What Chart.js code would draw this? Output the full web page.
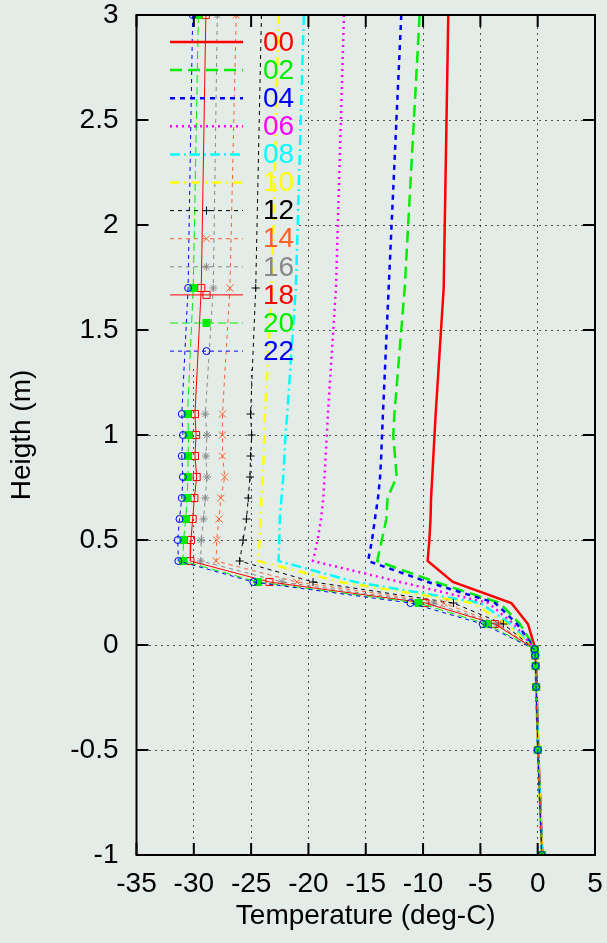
<!DOCTYPE html>
<html>
<head>
<meta charset="utf-8">
<title>Temperature profiles</title>
<script src="https://cdn.jsdelivr.net/npm/chart.js@4/dist/chart.umd.min.js"></script>
<style>
  html, body { margin: 0; padding: 0; background: #e4ece8; }
  #wrap { width: 607px; height: 943px; }
</style>
</head>
<body>
<div id="wrap"><canvas id="profile" width="607" height="943"></canvas></div>
<script>
/* data: heights (m) and temperature (deg-C) per hour */
const heights = [3, 1.7, 1.1, 1.0, 0.9, 0.8, 0.7, 0.6, 0.5, 0.4, 0.3, 0.2, 0.1, -0.02, -0.05, -0.1, -0.2, -0.5, -1];

const hourLabels = ['00', '02', '04', '06', '08', '10', '12', '14', '16', '18', '20', '22'];

const t00 = [-7.8, -8.2, -8.9, -9.0, -9.1, -9.2, -9.3, -9.35, -9.45, -9.6, -7.4, -2.3, -0.85, -0.2, -0.18, -0.14, -0.1, 0.05, 0.4];
const t02 = [-10.3, -11.6, -12.5, -12.6, -12.45, -12.3, -13.1, -13.2, -13.6, -14.0, -8.9, -3.3, -1.55, -0.2, -0.18, -0.15, -0.11, 0.04, 0.4];
const t04 = [-11.9, -13.0, -13.5, -13.58, -13.65, -13.75, -13.93, -14.2, -14.45, -14.8, -9.6, -3.7, -1.8, -0.22, -0.19, -0.15, -0.12, 0.03, 0.38];
const t06 = [-16.9, -17.6, -18.3, -18.4, -18.5, -18.6, -18.7, -18.9, -19.2, -19.6, -12.0, -4.3, -2.1, -0.22, -0.2, -0.15, -0.12, 0.03, 0.38];
const t08 = [-20.4, -21.1, -21.85, -22.0, -22.1, -22.2, -22.35, -22.5, -22.55, -22.6, -15.9, -5.0, -2.4, -0.23, -0.2, -0.16, -0.12, 0.03, 0.38];
const t10 = [-22.6, -23.2, -23.8, -23.85, -23.9, -24.0, -24.1, -24.2, -24.25, -24.4, -17.2, -5.7, -2.7, -0.24, -0.2, -0.16, -0.13, 0.02, 0.37];
const t12 = [-24.1, -24.6, -25.05, -24.95, -25.05, -25.1, -25.25, -25.4, -25.7, -26.0, -19.6, -7.35, -3.0, -0.25, -0.21, -0.16, -0.13, 0.02, 0.37];
const t14 = [-26.3, -26.85, -27.5, -27.5, -27.5, -27.3, -27.65, -27.8, -28.0, -28.05, -21.0, -8.2, -3.45, -0.25, -0.21, -0.17, -0.13, 0.02, 0.37];
const t16 = [-27.95, -28.3, -29.0, -28.85, -28.95, -28.85, -29.0, -29.15, -29.35, -29.4, -22.3, -9.1, -3.6, -0.26, -0.22, -0.17, -0.13, 0.02, 0.36];
const t18 = [-28.95, -29.35, -29.9, -29.8, -29.9, -29.75, -29.95, -30.1, -30.25, -30.3, -23.4, -9.8, -3.75, -0.26, -0.22, -0.17, -0.14, 0.01, 0.36];
const t20 = [-29.6, -30.05, -30.55, -30.45, -30.5, -30.5, -30.6, -30.7, -30.9, -30.95, -24.4, -10.4, -4.45, -0.27, -0.23, -0.18, -0.14, 0.01, 0.36];
const t22 = [-30.1, -30.5, -31.05, -30.95, -31.05, -30.95, -31.05, -31.25, -31.4, -31.35, -24.8, -11.1, -4.8, -0.27, -0.23, -0.18, -0.14, 0.01, 0.35];

const temps = [t00, t02, t04, t06, t08, t10, t12, t14, t16, t18, t20, t22];

/* gnuplot-like line styles */
const styles = [
  { color: '#ff0000', width: 2.5, dash: [] },
  { color: '#00ee00', width: 2.5, dash: [12, 6] },
  { color: '#0000ff', width: 2.5, dash: [5, 5] },
  { color: '#ff00ff', width: 2.5, dash: [2, 4] },
  { color: '#00ffff', width: 2.5, dash: [10, 4, 2, 4] },
  { color: '#ffff00', width: 2.5, dash: [9, 5, 2, 5] },
  { color: '#000000', width: 1, dash: [4, 4], point: 'cross', radius: 4 },
  { color: '#ff6028', width: 1, dash: [4, 4], point: 'crossRot', radius: 5 },
  { color: '#888888', width: 1, dash: [4, 4], point: 'star', radius: 4 },
  { color: '#ff0000', width: 1, dash: [], point: 'rect', radius: 5 },
  { color: '#00ee00', width: 1, dash: [8, 4], point: 'rect', radius: 5, filled: true },
  { color: '#0000ff', width: 1, dash: [4, 4], point: 'circle', radius: 3.5 }
];

const BG = '#e4ece8';
const FONT = "'Liberation Sans', Arial, Helvetica, sans-serif";

const datasets = hourLabels.map((lab, i) => {
  const s = styles[i];
  return {
    label: lab,
    data: heights.map((h, k) => ({ x: temps[i][k], y: h })),
    showLine: true,
    borderColor: s.color,
    borderWidth: s.width,
    borderDash: s.dash,
    pointStyle: s.point || 'circle',
    pointRadius: s.point ? s.radius : 0,
    pointBorderWidth: 1,
    pointBorderColor: s.color,
    pointBackgroundColor: s.filled ? s.color : 'rgba(0,0,0,0)',
    order: 11 - i
  };
});

/* background fill */
const bgPlugin = {
  id: 'bg',
  beforeDraw(chart) {
    const ctx = chart.ctx;
    ctx.save();
    ctx.fillStyle = BG;
    ctx.fillRect(0, 0, chart.width, chart.height);
    ctx.restore();
  }
};

/* opaque key box: hides the grid behind the key */
const keyMask = {
  id: 'keyMask',
  beforeDatasetsDraw(chart) {
    const a = chart.chartArea;
    const ctx = chart.ctx;
    ctx.save();
    ctx.fillStyle = BG;
    ctx.fillRect(a.left + 1, a.top + 1, 297 - a.left, 366 - a.top);
    ctx.restore();
  }
};

/* custom key: sample line on the left, coloured label on the right */
const keyPlugin = {
  id: 'key',
  afterDatasetsDraw(chart) {
    const ctx = chart.ctx;
    ctx.save();
    chart.data.datasets.forEach((ds, i) => {
      const y = 42 + i * 28.1;
      const s = styles[i];
      ctx.strokeStyle = s.color;
      ctx.lineWidth = s.width;
      ctx.setLineDash(s.dash);
      ctx.beginPath();
      ctx.moveTo(170, y);
      ctx.lineTo(243, y);
      ctx.stroke();
      ctx.setLineDash([]);
      if (s.point) {
        ctx.lineWidth = 1;
        ctx.fillStyle = s.filled ? s.color : 'rgba(0,0,0,0)';
        Chart.helpers.drawPoint(ctx, { pointStyle: s.point, radius: s.radius, rotation: 0, borderWidth: 1 }, 206.5, y);
      }
      ctx.fillStyle = s.color;
      ctx.font = '28px ' + FONT;
      ctx.textAlign = 'left';
      ctx.textBaseline = 'middle';
      ctx.fillText(ds.label, 263, y + 1);
    });
    ctx.restore();
  }
};

/* frame with inward ticks on all four sides */
const framePlugin = {
  id: 'frame',
  afterDraw(chart) {
    const a = chart.chartArea;
    const ctx = chart.ctx;
    const xs = chart.scales.x, ys = chart.scales.y;
    const len = 12;
    ctx.save();
    ctx.strokeStyle = '#000';
    ctx.lineWidth = 2;
    ctx.setLineDash([]);
    ctx.strokeRect(a.left, a.top, a.right - a.left, a.bottom - a.top);
    ctx.beginPath();
    xs.ticks.forEach(t => {
      const px = xs.getPixelForValue(t.value);
      ctx.moveTo(px, a.bottom); ctx.lineTo(px, a.bottom - len);
      ctx.moveTo(px, a.top); ctx.lineTo(px, a.top + len);
    });
    ys.ticks.forEach(t => {
      const py = ys.getPixelForValue(t.value);
      ctx.moveTo(a.left, py); ctx.lineTo(a.left + len, py);
      ctx.moveTo(a.right, py); ctx.lineTo(a.right - len, py);
    });
    ctx.stroke();
    ctx.restore();
  }
};

const ctx = document.getElementById('profile').getContext('2d');
const profileChart = new Chart(ctx, {
  type: 'scatter',
  data: { datasets: datasets },
  options: {
    responsive: false,
    animation: false,
    layout: { padding: { left: 0, right: 12, top: 15, bottom: 0 } },
    plugins: { legend: { display: false }, tooltip: { enabled: false } },
    elements: { line: { tension: 0 } },
    scales: {
      x: {
        type: 'linear',
        min: -35, max: 5,
        afterFit(scale) {
          scale.height = 88;
          scale.paddingLeft = 0;
          scale.paddingRight = 0;
        },
        ticks: { stepSize: 5, color: '#000', padding: 12, font: { family: FONT, size: 28 } },
        grid: { color: 'rgba(0,0,0,0.65)', lineWidth: 1, drawTicks: false },
        border: { display: false, dash: [2, 4] },
        title: { display: true, text: 'Temperature (deg-C)', color: '#000', font: { family: FONT, size: 28 }, padding: { top: 0, bottom: 10 } }
      },
      y: {
        type: 'linear',
        min: -1, max: 3,
        afterFit(scale) {
          scale.width = 136.5;
          scale.paddingTop = 0;
          scale.paddingBottom = 0;
        },
        ticks: { stepSize: 0.5, color: '#000', padding: 18, font: { family: FONT, size: 28 },
          callback: v => String(v) },
        grid: { color: 'rgba(0,0,0,0.65)', lineWidth: 1, drawTicks: false },
        border: { display: false, dash: [2, 4] },
        title: { display: true, text: 'Heigth (m)', color: '#000', font: { family: FONT, size: 28 }, padding: { top: 5, bottom: 0 } }
      }
    }
  },
  plugins: [bgPlugin, keyMask, keyPlugin, framePlugin]
});
</script>
</body>
</html>
